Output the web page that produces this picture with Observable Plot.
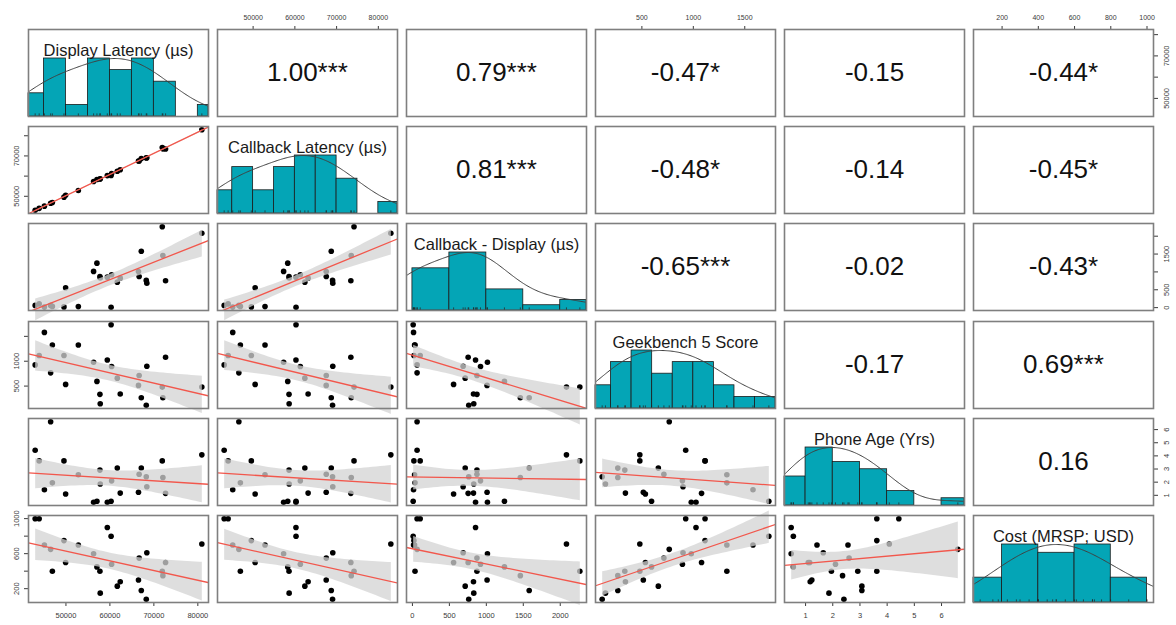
<!DOCTYPE html>
<html>
<head>
<meta charset="utf-8">
<script src="https://cdn.jsdelivr.net/npm/d3@7"></script>
<script src="https://cdn.jsdelivr.net/npm/@observablehq/plot@0.6"></script>
<style>
  body { margin: 0; background: #fff; }
  #chart { position: relative; width: 1176px; height: 625px; overflow: hidden; background: #fff; }
  #chart svg { position: absolute; }
</style>
</head>
<body>
<div id="chart"></div>
<script>
// ---------- data (one value per phone) ----------
const variableNames = ["Display Latency (µs)", "Callback Latency (µs)", "Callback - Display (µs)",
                       "Geekbench 5 Score", "Phone Age (Yrs)", "Cost (MRSP; USD)"];
const displayLatency = [43000, 43910, 45100, 46520, 46910, 49550, 49930, 52820, 56290, 57050, 57730, 57800, 59410,
                        60270, 60390, 61680, 62350, 66500, 66650, 67140, 68270, 68400, 71910, 72050, 72660, 80910];
const callbackLatency = [43063, 44015, 45115, 46583, 46945, 49570, 50487, 52849, 57305, 58295, 58603, 58630, 60264,
                         60280, 61311, 62394, 63176, 67510, 67523, 68720, 69032, 69086, 74175, 73510, 73414, 82994];
const callbackMinusDisplay = [63, 105, 15, 63, 35, 20, 557, 29, 1015, 1245, 873, 830, 854,
                              10, 921, 714, 826, 1010, 873, 1580, 762, 686, 2265, 1460, 754, 2084];
const geekbenchScore = [926, 1114, 1580, 766, 1326, 1114, 534, 1326, 980, 594, 334, 146, 1026,
                        1734, 894, 660, 340, 514, 714, 266, 114, 900, 480, 266, 1080, 480];
const phoneAgeYears = [4.43, 3.62, 1.42, 6.6, 1.95, 3.62, 1.1, 2.56, 0.47, 0.55, 2.92, 1.86, 0.47,
                       0.55, 2.1, 3.07, 1.17, 1.23, 2.6, 3.07, 2.41, 1.65, 3.62, 2.36, 1.15, 4.08];
const costUSD = [999, 999, 699, 649, 399, 749, 499, 699, 599, 449, 399, 149, 899,
                 799, 479, 229, 279, 299, 549, 179, 79, 610, 399, 349, 499, 710];

// correlation labels of the upper panels (row by row, columns to the right of the diagonal)
const corLabels = [
  ["1.00***", "0.79***", "-0.47*", "-0.15", "-0.44*"],
  ["0.81***", "-0.48*", "-0.14", "-0.45*"],
  ["-0.65***", "-0.02", "-0.43*"],
  ["-0.17", "0.69***"],
  ["0.16"]
];

// tick values and the labels shown on the rotated side axes
const displayTicks = [50000, 60000, 70000, 80000];
const callbackTicks = [50000, 60000, 70000, 80000];
const diffTicks = [0, 500, 1000, 1500, 2000];
const geekTicks = [500, 1000, 1500];
const ageTicks = [1, 2, 3, 4, 5, 6];
const costTicks = [200, 400, 600, 800, 1000];
const displaySideLabels = [50000, 70000];
const callbackSideLabels = [50000, 70000];
const diffSideLabels = [0, 500, 1500];
const geekSideLabels = [500, 1000];
const ageSideLabels = [1, 2, 3, 4, 5, 6];
const costSideLabels = [200, 600, 1000];

// ---------- layout & style ----------
const PW = 180, PH = 87, X0 = 28, Y0 = 29, DX = 189, DY = 97.2, M = 26;
const FONT = '"Liberation Sans", Arial, Helvetica, sans-serif';
const HIST = "#04a5b6";
const AXIS = "#3a3a3a";

const cols = [displayLatency, callbackLatency, callbackMinusDisplay, geekbenchScore, phoneAgeYears, costUSD];
const ticksByVar = [displayTicks, callbackTicks, diffTicks, geekTicks, ageTicks, costTicks];
const sideByVar = [displaySideLabels, callbackSideLabels, diffSideLabels, geekSideLabels, ageSideLabels, costSideLabels];
const n = displayLatency.length;
const idx = d3.range(n);
const domains = cols.map(v => { const [a, b] = d3.extent(v); const p = (b - a) * 0.04; return [a - p, b + p]; });

const chart = document.getElementById("chart");

for (let i = 0; i < 6; i++) {
  for (let j = 0; j < 6; j++) {
    const marks = [];
    const xOpt = {domain: domains[j]};
    let yOpt = {domain: domains[i]};

    if (i === j) {
      const v = cols[j];
      const [a, b] = d3.extent(v);
      // Sturges-style pretty breaks (as R's hist)
      const step = d3.tickIncrement(a, b, Math.ceil(Math.log2(v.length)) + 1);
      const lo = Math.floor(a / step) * step, hi = Math.ceil(b / step) * step;
      const bins = d3.bin().domain([lo, hi]).thresholds(d3.range(lo + step, hi - step / 2, step))(v);
      const maxC = d3.max(bins, d => d.length);
      xOpt.clamp = true;
      yOpt = {domain: [0, 1.5]};
      marks.push(Plot.rect(bins, {x1: d => d.x0, x2: d => d.x1, y1: 0, y2: d => d.length / maxC,
        fill: HIST, stroke: "#1c1c1c", strokeWidth: 0.8}));
      // density (gaussian kernel, bw = nrd * 1.2), scaled to a peak of 1
      const sd = d3.deviation(v), iqr = d3.quantile(v, 0.75) - d3.quantile(v, 0.25);
      const bw = 1.2 * 1.06 * Math.min(sd, iqr / 1.34) * Math.pow(v.length, -0.2);
      const kern = x => d3.sum(v, t => Math.exp(-0.5 * ((x - t) / bw) ** 2));
      const peak = d3.max(d3.range(513), k => kern(a - 3 * bw + k * (b - a + 6 * bw) / 512));
      const [d0, d1] = domains[j];
      const curve = d3.range(161).map(k => { const x = d0 + k * (d1 - d0) / 160; return {x, y: kern(x) / peak}; });
      marks.push(Plot.line(curve, {x: "x", y: "y", stroke: "#404040", strokeWidth: 1}));
      marks.push(Plot.ruleX(v, {x: d => d, y1: 0, y2: 0.045, stroke: "#222", strokeWidth: 0.7}));
      marks.push(Plot.text([variableNames[j]], {text: d => d, frameAnchor: "top", dy: 14.8,
        fontSize: 16.5, fill: "#1a1a1a"}));
    } else if (i > j) {
      const xs = cols[j], ys = cols[i];
      marks.push(Plot.dot(idx, {x: k => xs[k], y: k => ys[k], r: 2.8, fill: "#000", stroke: "none"}));
      marks.push(Plot.linearRegressionY(idx, {x: k => xs[k], y: k => ys[k], stroke: "none",
        fill: "#d3d3d3", fillOpacity: 0.75}));
      const mx = d3.mean(xs), my = d3.mean(ys);
      const slope = d3.sum(idx, k => (xs[k] - mx) * (ys[k] - my)) / d3.sum(idx, k => (xs[k] - mx) ** 2);
      const icpt = my - slope * mx;
      const fit = domains[j].map(x => ({x, y: icpt + slope * x}));
      marks.push(Plot.line(fit, {x: "x", y: "y", stroke: "#f2574c", strokeWidth: 1.3, clip: true}));
    } else {
      marks.push(Plot.text([corLabels[i][j - i - 1]], {text: d => d, frameAnchor: "middle",
        fontSize: 26, fill: "#111"}));
    }

    let hasX = false, hasY = false;
    if (i === 0 && j % 2 === 1) {
      hasX = true;
      marks.push(Plot.axisX({anchor: "top", ticks: ticksByVar[j], tickFormat: d => String(d), tickSize: 4,
        tickPadding: 6, fontSize: 7, color: AXIS, label: null}));
    }
    if (i === 5 && j % 2 === 0) {
      hasX = true;
      marks.push(Plot.axisX({anchor: "bottom", ticks: ticksByVar[j], tickFormat: d => String(d), tickSize: 4,
        tickPadding: 6, fontSize: 7.5, color: AXIS, label: null}));
    }
    if (j === 0 && i % 2 === 1) {
      hasY = true;
      marks.push(Plot.axisY({anchor: "left", ticks: ticksByVar[i],
        tickFormat: d => sideByVar[i].includes(d) ? String(d) : "", tickRotate: -90, lineAnchor: "bottom",
        textAnchor: "middle", tickSize: 4, tickPadding: 6, fontSize: 7.5, color: AXIS, label: null}));
    }
    if (j === 5 && i % 2 === 0) {
      hasY = true;
      marks.push(Plot.axisY({anchor: "right", ticks: ticksByVar[i],
        tickFormat: d => sideByVar[i].includes(d) ? String(d) : "", tickRotate: -90, lineAnchor: "top",
        textAnchor: "middle", tickSize: 4, tickPadding: 6, fontSize: 7.5, color: AXIS, label: null}));
    }
    if (!hasX) xOpt.axis = null;
    if (!hasY) yOpt.axis = null;

    marks.push(Plot.frame({stroke: "#7f7f7f", strokeWidth: 1.6}));

    const svg = Plot.plot({
      width: PW + 2 * M, height: PH + 2 * M, margin: M,
      x: xOpt, y: yOpt, marks,
      style: {background: "transparent", overflow: "visible", fontFamily: FONT}
    });
    svg.style.position = "absolute";
    svg.style.left = (X0 + j * DX - M) + "px";
    svg.style.top = (Y0 + i * DY - M) + "px";
    svg.style.maxWidth = "none";
    chart.appendChild(svg);
  }
}
</script>
</body>
</html>
